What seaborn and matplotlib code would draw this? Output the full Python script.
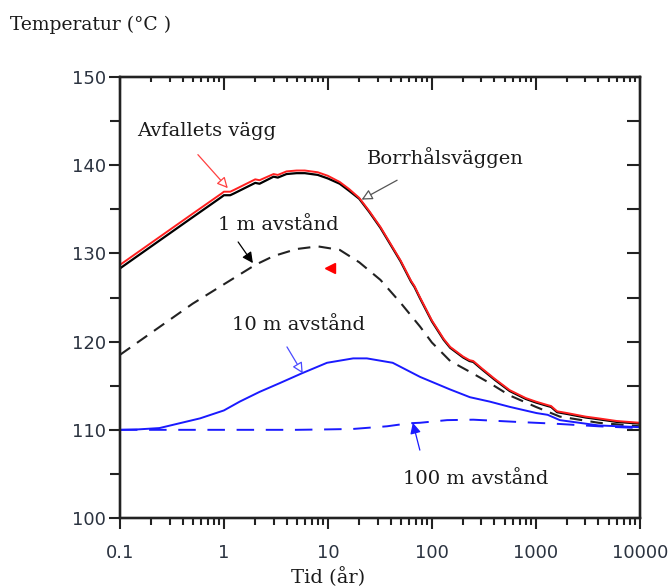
import matplotlib
matplotlib.use('Agg')
import matplotlib.pyplot as plt
import seaborn as sns
from matplotlib.ticker import NullLocator

# time (år) and temperature (°C)
t_wall = [0.1, 0.2, 0.5, 0.95, 1.0, 1.15, 1.25, 2.0, 2.2, 3.0, 3.3, 4, 5, 6, 8, 10,
          13, 16, 20, 25, 32, 40, 50, 63, 68, 77, 100, 130, 150, 200, 230, 250, 300,
          400, 560, 800, 1000, 1300, 1400, 1600, 2000, 3000, 4000, 6000, 10000]
temp_wall = [128.7, 131.2, 134.5, 136.8, 137.0, 137.0, 137.2, 138.4, 138.3, 139.0, 138.9,
             139.3, 139.4, 139.4, 139.2, 138.8, 138.1, 137.3, 136.3, 134.8, 133.0, 131.1,
             129.2, 126.9, 126.3, 125.0, 122.4, 120.3, 119.4, 118.3, 117.9, 117.8, 117.0,
             115.8, 114.5, 113.6, 113.2, 112.8, 112.7, 112.1, 111.9, 111.5, 111.3, 111.0, 110.8]
temp_hole = [128.3, 130.8, 134.1, 136.4, 136.6, 136.6, 136.8, 138.0, 137.9, 138.7, 138.6,
             139.0, 139.1, 139.1, 138.9, 138.5, 137.9, 137.1, 136.2, 134.7, 132.9, 131.0,
             129.1, 126.8, 126.2, 124.9, 122.3, 120.2, 119.3, 118.2, 117.8, 117.7, 116.9,
             115.7, 114.4, 113.5, 113.1, 112.7, 112.6, 112.0, 111.8, 111.4, 111.2, 110.9, 110.7]

t_1m = [0.1, 0.2, 0.5, 1, 2, 3, 5, 8, 13, 20, 32, 50, 77, 100, 150, 230, 360, 560,
        1000, 1700, 4000, 10000]
temp_1m = [118.5, 121.0, 124.3, 126.5, 128.7, 129.7, 130.5, 130.8, 130.4, 129.0, 127.0,
           124.4, 121.7, 119.9, 117.8, 116.6, 115.3, 113.9, 112.6, 111.5, 110.8, 110.4]

t_10m = [0.1, 0.15, 0.24, 0.59, 1.0, 1.42, 2.2, 3.45, 5.6, 9.8, 17.5, 23.7, 42, 77, 148,
         232, 360, 562, 1015, 1300, 1700, 4000, 10000]
temp_10m = [110.0, 110.05, 110.2, 111.3, 112.2, 113.2, 114.3, 115.3, 116.4, 117.6, 118.1,
            118.1, 117.6, 116.0, 114.6, 113.7, 113.2, 112.6, 111.9, 111.7, 111.1, 110.5, 110.3]

t_100m = [0.1, 1, 5, 10, 17.5, 37, 61, 77, 140, 250, 650, 1500, 4000, 10000]
temp_100m = [110.0, 110.0, 110.0, 110.05, 110.1, 110.4, 110.75, 110.8, 111.1, 111.15,
             110.9, 110.7, 110.4, 110.2]

red_marker = (10.4, 128.3)

x_ticks = [0.1, 1, 10, 100, 1000, 10000]
x_labels = ['0.1', '1', '10', '100', '1000', '10000']
y_ticks = [100, 110, 120, 130, 140, 150]
y_all = [100, 105, 110, 115, 120, 125, 130, 135, 140, 145, 150]

# every log tick position; only the decades get labels
x_all = sorted(x_ticks + [k * d for d in x_ticks[:-1] for k in range(2, 10)])
x_all_labels = [x_labels[x_ticks.index(v)] if v in x_ticks else '' for v in x_all]
y_all_labels = [str(v) if v in y_ticks else '' for v in y_all]

sns.set_style('ticks')
plt.rcParams['font.family'] = ['DejaVu Sans']

INK = '#222222'
fig = plt.figure(figsize=(6.7, 5.88), dpi=100)
ax = fig.add_axes([0.179, 0.119, 0.776, 0.750])

sns.lineplot(x=t_wall, y=temp_hole, ax=ax, color='black', lw=1.6)
sns.lineplot(x=t_wall, y=temp_wall, ax=ax, color='#ff2020', lw=1.4)
sns.lineplot(x=t_1m, y=temp_1m, ax=ax, color=INK, lw=1.5, linestyle=(0, (6, 4)))
sns.lineplot(x=t_10m, y=temp_10m, ax=ax, color='#1a1aff', lw=1.4)
sns.lineplot(x=t_100m, y=temp_100m, ax=ax, color='#1a1aff', lw=1.4, linestyle=(0, (9, 6)))
ax.plot(*red_marker, marker='<', color='red', ms=7, ls='none')

ax.set_xscale('log')
ax.set_xlim(0.1, 10000)
ax.set_ylim(100, 150)
ax.set_xticks(x_all)
ax.set_xticklabels(x_all_labels)
ax.set_yticks(y_all)
ax.set_yticklabels(y_all_labels)
ax.xaxis.set_minor_locator(NullLocator())
ax.yaxis.set_minor_locator(NullLocator())
ax.set_xlabel('')
ax.set_ylabel('')

ax.tick_params(which='both', bottom=True, left=True, top=False, right=False,
               direction='out', length=8, width=1.5, color=INK,
               labelsize=13, labelcolor='#2b3340')
ax.tick_params(axis='y', pad=2)
ax.tick_params(axis='x', pad=11)

# inward ticks on top and right
top = ax.twiny()
top.set_xscale('log')
top.set_xlim(ax.get_xlim())
top.set_xticks(x_all)
top.xaxis.set_minor_locator(NullLocator())
top.tick_params(which='both', top=True, bottom=False, labeltop=False, direction='in',
                length=9, width=1.5, color=INK)

right = ax.twinx()
right.set_ylim(ax.get_ylim())
right.set_yticks(y_all)
right.yaxis.set_minor_locator(NullLocator())
right.tick_params(which='both', right=True, left=False, labelright=False, direction='in',
                  length=9.5, width=1.5, color=INK)

for a in (ax, top, right):
    for s in a.spines.values():
        s.set_linewidth(1.6)
        s.set_color(INK)

# shorter marks for the in-between positions
for tick, v in zip(ax.xaxis.get_major_ticks(), x_all):
    if v not in x_ticks:
        tick.tick1line.set_markersize(5)
        tick.tick1line.set_markeredgewidth(1.5)
for tick, v in zip(top.xaxis.get_major_ticks(), x_all):
    if v not in x_ticks:
        tick.tick2line.set_markersize(3.5)
        tick.tick2line.set_markeredgewidth(1.5)
for tick, v in zip(ax.yaxis.get_major_ticks(), y_all):
    if v not in y_ticks:
        tick.tick1line.set_markersize(7)

serif = dict(family='DejaVu Serif', fontsize=14, color='#1a1a1a', va='center')
ax.text(0.146, 143.9, 'Avfallets vägg', **serif)
ax.text(23.6, 140.9, 'Borrhålsväggen', **serif)
ax.text(0.875, 133.2, '1 m avstånd', **serif)
ax.text(1.19, 121.9, '10 m avstånd', **serif)
ax.text(52.7, 104.4, '100 m avstånd', **serif)

def arrow(tip, tail, color, filled):
    ax.annotate('', xy=tip, xytext=tail,
                arrowprops=dict(arrowstyle='-|>', mutation_scale=16, lw=0.9,
                                ec=color, fc=color if filled else 'white',
                                shrinkA=0, shrinkB=0))

arrow((1.09, 137.4), (0.562, 141.2), '#ff4040', False)
arrow((21.1, 136.1), (46.3, 138.3), '#555555', False)
arrow((1.90, 128.9), (1.37, 131.3), 'black', True)
arrow((5.73, 116.4), (4.04, 119.4), '#4a4aff', False)
arrow((65.6, 110.8), (76.6, 107.7), '#1a1aff', True)

fig.text(10 / 670, 1 - 25 / 588, 'Temperatur (°C )', family='DejaVu Serif',
         fontsize=13.5, va='center', ha='left', color='#1a1a1a')
fig.text(328 / 670, 1 - 577 / 588, 'Tid (år)', family='DejaVu Serif',
         fontsize=14, va='center', ha='center', color='#1a1a1a')

fig.savefig('out.png', dpi=100, facecolor='white')
